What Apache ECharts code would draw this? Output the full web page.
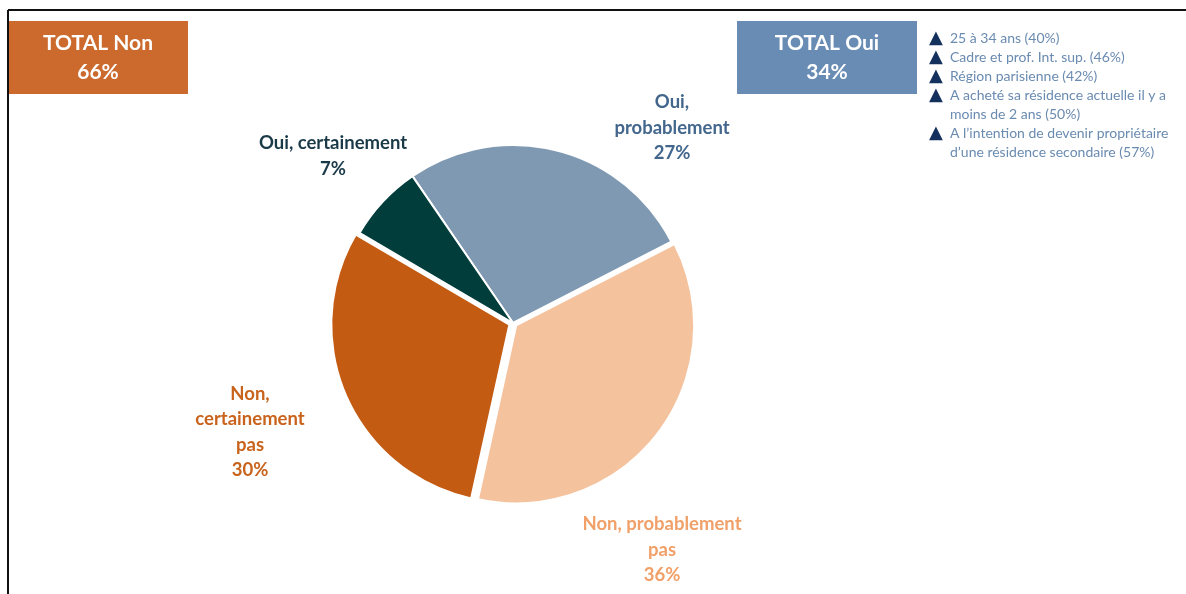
<!DOCTYPE html>
<html>
<head>
<meta charset="utf-8">
<script src="https://cdn.jsdelivr.net/npm/echarts@6/dist/echarts.min.js"></script>
<style>
  html, body { margin: 0; padding: 0; background: #fff; }
  #main { width: 1186px; height: 594px; }
</style>
</head>
<body>
<div id="main"></div>
<script>
  // données
  var categories = ['Oui,\nprobablement', 'Non, probablement\npas', 'Non,\ncertainement\npas', 'Oui, certainement']
  var values = [27, 36, 30, 7]
  var sliceColors = ['#7f99b3', '#f5c29e', '#c45b12', '#003d3b']
  var labelColors = ['#42668c', '#f0a068', '#c9631c', '#1a3a48']
  var totals = [['TOTAL Non', '66%'], ['TOTAL Oui', '34%']]
  var bullets = [
    '25 à 34 ans (40%)',
    'Cadre et prof. Int. sup. (46%)',
    'Région parisienne (42%)',
    'A acheté sa résidence actuelle il y a\nmoins de 2 ans (50%)',
    'A l\u2019intention de devenir propriétaire\nd\u2019une résidence secondaire (57%)'
  ]

  // position des étiquettes (centre du bloc de texte)
  var labelPos = [[672, 128], [662, 550], [250, 432], [333, 156]]

  var font = 'Lato, "Open Sans", sans-serif'

  var graphics = [
    // cadre
    { type: 'line', shape: { x1: 8, y1: 10, x2: 1186, y2: 10 }, style: { stroke: '#111', lineWidth: 2 } },
    { type: 'line', shape: { x1: 8, y1: 10, x2: 8, y2: 594 }, style: { stroke: '#111', lineWidth: 2 } },
    // TOTAL Non
    { type: 'rect', shape: { x: 9, y: 21, width: 179, height: 73 }, style: { fill: '#cb6a2c' } },
    {
      type: 'text', x: 98, y: 58,
      style: {
        text: totals[0].join('\n'), fill: '#fff', font: 'bold 21px ' + font,
        align: 'center', verticalAlign: 'middle', lineHeight: 29
      }
    },
    // TOTAL Oui
    { type: 'rect', shape: { x: 737, y: 21, width: 180, height: 73 }, style: { fill: '#688cb4' } },
    {
      type: 'text', x: 827, y: 58,
      style: {
        text: totals[1].join('\n'), fill: '#fff', font: 'bold 21px ' + font,
        align: 'center', verticalAlign: 'middle', lineHeight: 29
      }
    }
  ]

  // liste à puces
  var lineY = 38
  bullets.forEach(function (b) {
    graphics.push({
      type: 'text', x: 929, y: lineY,
      style: { text: '\u25B2', fill: '#14305c', font: '18px "DejaVu Sans", sans-serif', verticalAlign: 'middle' }
    })
    b.split('\n').forEach(function (l) {
      graphics.push({
        type: 'text', x: 950, y: lineY,
        style: { text: l, fill: '#6a8bb0', font: '14px ' + font, verticalAlign: 'middle' }
      })
      lineY += 19
    })
  })

  var myChart = echarts.init(document.getElementById('main'))
  var option = {
    animation: false,
    graphic: graphics,
    series: [{
      // secteurs
      type: 'pie',
      center: [513, 323],
      radius: 178,
      startAngle: 124.4,
      clockwise: true,
      selectedMode: 'multiple',
      selectedOffset: 4,
      itemStyle: { borderColor: '#fff', borderWidth: 2 },
      label: { show: false },
      labelLine: { show: false },
      emphasis: { disabled: true },
      data: categories.map(function (c, i) {
        return {
          name: c,
          value: values[i],
          selected: i === 1 || i === 2,
          itemStyle: { color: sliceColors[i] }
        }
      })
    }, {
      // étiquettes
      type: 'pie',
      center: [513, 323],
      radius: 178,
      startAngle: 124.4,
      clockwise: true,
      silent: true,
      selectedMode: false,
      itemStyle: { color: 'rgba(0,0,0,0)' },
      label: {
        show: true,
        formatter: function (p) { return p.name + '\n' + p.value + '%' },
        fontFamily: font,
        fontWeight: 'bold',
        fontSize: 18.5,
        lineHeight: 25.5,
        align: 'center'
      },
      labelLine: { show: false },
      labelLayout: function (p) {
        var pos = labelPos[p.dataIndex]
        return { x: pos[0], y: pos[1], align: 'center', verticalAlign: 'middle' }
      },
      emphasis: { disabled: true },
      data: categories.map(function (c, i) {
        return { name: c, value: values[i], label: { color: labelColors[i] } }
      })
    }]
  }
  myChart.setOption(option)
</script>
</body>
</html>
